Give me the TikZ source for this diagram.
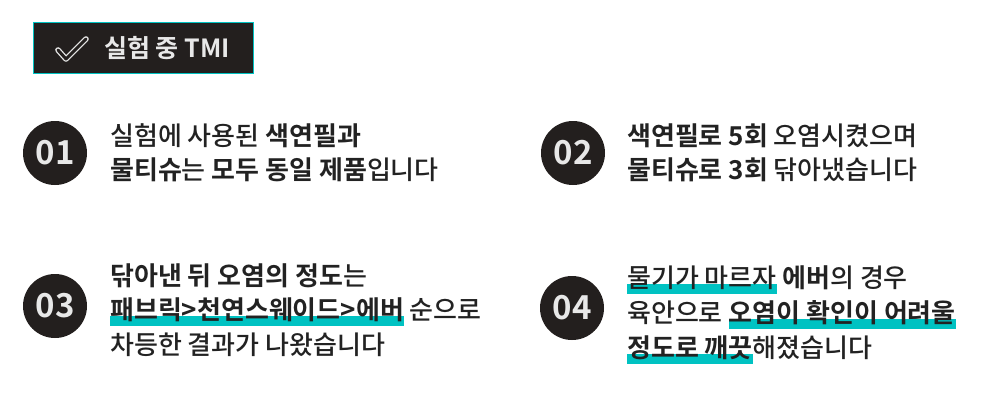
\documentclass[tikz,border=0pt]{standalone}
\usepackage{fontspec}
\setmainfont{Noto Sans CJK KR Medium}[BoldFont=Noto Sans CJK KR Bold]
\definecolor{ink}{HTML}{222222}
\definecolor{tmi}{HTML}{00C2C2}
\definecolor{disc}{HTML}{231F1E}
\definecolor{pale}{HTML}{E8E8E8}
\newsavebox\hlbox
\newcommand\hlt[1]{\sbox\hlbox{#1}\rlap{\color{tmi}\rule[-7pt]{\wd\hlbox}{10pt}}\usebox\hlbox}
\begin{document}
\begin{tikzpicture}[x=1pt,y=-1pt,
  line/.style={anchor=base west, inner sep=0pt, text=ink, font=\fontsize{26}{32}\selectfont},
  num/.style={circle, fill=disc, minimum size=64pt, inner sep=0pt, text=pale, font=\fontsize{33}{33}\selectfont\bfseries}]
\useasboundingbox (0,0) rectangle (1000,400);

% header
\node[draw=tmi, line width=1pt, fill=disc, minimum width=220pt, minimum height=51pt, inner sep=0pt] (head) at (143,47.5) {};
\node[anchor=west, inner sep=0pt, text=pale, font=\fontsize{25}{25}\selectfont\bfseries] (title) at (104,48) {실험 중 TMI};
\draw[pale, line width=1.3pt, double=disc, double distance=3pt, line join=round, line cap=round] (58,50) -- (66,59) -- (86,39);

% 01
\node[num] (n01) at (55,153) {01};
\node[line] (t1a) at (110,145) {실험에 사용된 \textbf{색연필과}};
\node[line] (t1b) at (110,179) {\textbf{물티슈}는 \textbf{모두 동일 제품}입니다};

% 02
\node[num] (n02) at (573,153) {02};
\node[line] (t2a) at (627,145) {\textbf{색연필로 5회} 오염시켰으며};
\node[line] (t2b) at (627,179) {\textbf{물티슈로 3회} 닦아냈습니다};

% 03
\node[num] (n03) at (55,306) {03};
\node[line] (t3a) at (110,285) {\textbf{닦아낸 뒤 오염의 정도}는};
\node[line] (t3b) at (110,319) {\hlt{\textbf{패브릭>천연스웨이드>에버}} 순으로};
\node[line] (t3c) at (110,354) {차등한 결과가 나왔습니다};

% 04
\node[num] (n04) at (572,308) {04};
\node[line] (t4a) at (627,287) {\hlt{물기가 마르자} \textbf{에버}의 경우};
\node[line] (t4b) at (627,322) {육안으로 \hlt{\textbf{오염이 확인이 어려울}}};
\node[line] (t4c) at (627,357) {\hlt{\textbf{정도로 깨끗}}해졌습니다};
\end{tikzpicture}
\end{document}
